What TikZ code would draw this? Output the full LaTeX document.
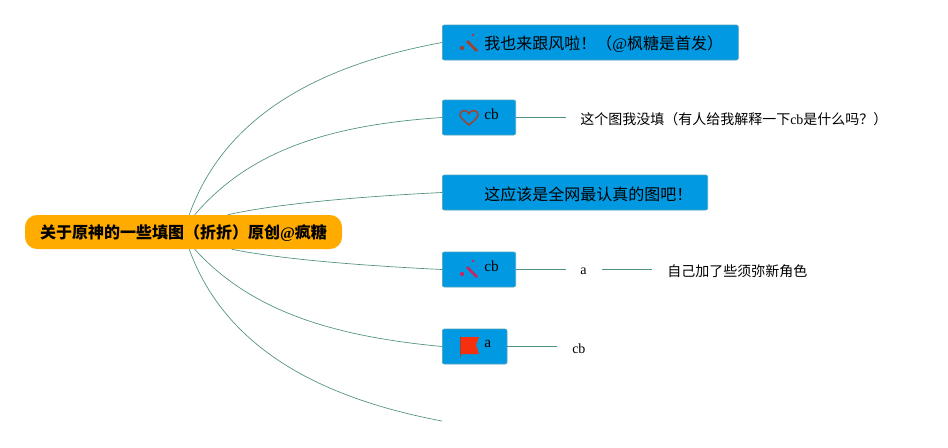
\documentclass[tikz,border=0pt]{standalone}
\usepackage{fontspec}
\setmainfont{Liberation Serif}
\newfontfamily\cjk{Noto Sans CJK SC}
\usetikzlibrary{positioning,calc}
\definecolor{topicblue}{HTML}{0099E2}
\definecolor{topicedge}{HTML}{4FA3BC}
\definecolor{rootorange}{HTML}{FFAB00}
\definecolor{linkgreen}{HTML}{4F8F82}
\definecolor{wandbrown}{HTML}{A5402F}
\definecolor{wandpink}{HTML}{C9245E}
\definecolor{flagred}{HTML}{F5300F}
\tikzset{
    rootbox/.style={fill=rootorange, rounded corners=9pt, minimum width=237.75pt, minimum height=25.5pt, inner sep=0pt},
    topicbox/.style={fill=topicblue, draw=topicedge, line width=0.5pt, rounded corners=1.5pt, minimum height=26.25pt, inner sep=0pt, anchor=west},
    topictext/.style={anchor=west, inner sep=0pt, font=\fontsize{12}{14}\selectfont\cjk},
    sidetext/.style={anchor=west, inner sep=0pt, font=\fontsize{10.5}{13}\selectfont\cjk},
    latintext/.style={anchor=west, inner sep=0pt, font=\fontsize{10.5}{13}\selectfont},
    boxlatin/.style={anchor=west, inner sep=0pt, font=\fontsize{11.5}{14}\selectfont},
    link/.style={linkgreen, line width=0.5pt}
}
\newcommand{\wandicon}[2]{%
    \draw[#2, line width=2pt] ($(#1)+(-3,-2)$) -- ($(#1)+(7,8)$);
    \fill[#2] ($(#1)+(-8,5)$) circle (1.6pt);
    \fill[#2] ($(#1)+(3,-8)$) circle (1pt);
    \fill[#2] ($(#1)+(7,-3)$) circle (0.5pt);
}
\begin{document}
\begin{tikzpicture}[x=0.75pt, y=-0.75pt]
    \useasboundingbox (0,0) rectangle (948,447);

    % Root topic
    \node[rootbox] (root) at (183.5,232) {};
    \node[inner sep=0pt, font=\fontsize{12}{14}\selectfont\cjk\bfseries] (roottext) at (183.5,233.5) {关于原神的一些填图（折折）原创{\rmfamily @}疯糖};

    % Topic boxes
    \node[topicbox, minimum width=222pt] (wish) at (442,42.5) {};
    \node[topicbox, minimum width=55pt] (heart) at (442,117.5) {};
    \node[topicbox, minimum width=199pt] (serious) at (442,192.5) {};
    \node[topicbox, minimum width=55pt] (extra) at (442,269.5) {};
    \node[topicbox, minimum width=48.5pt] (flag) at (442,346.5) {};
    \coordinate (blank) at (442,421);

    % Box texts
    \node[topictext] (wishtext) at (484,44) {我也来跟风啦！（{\rmfamily @}枫糖是首发）};
    \node[boxlatin] (hearttext) at (484,114) {cb};
    \node[topictext] (serioustext) at (484,194) {这应该是全网最认真的图吧！};
    \node[boxlatin] (extratext) at (484,266) {cb};
    \node[boxlatin] (flagtext) at (484,344) {a};

    % Side texts
    \node[sidetext] (heartnote) at (580,119.5) {这个图我没填（有人给我解释一下{\rmfamily cb}是什么吗？）};
    \node[latintext] (extraa) at (580,271.5) {a};
    \node[sidetext] (extranote) at (667,271.5) {自己加了些须弥新角色};
    \node[latintext] (flagcb) at (572,348.5) {cb};

    % Curves from the root
    \draw[link] ($(root.north west)+(164.5,0)$) .. controls (225,115) and (320,65) .. (wish.west);
    \draw[link] ($(root.north west)+(170,0)$) .. controls (250,150) and (330,125) .. (heart.west);
    \draw[link] ($(root.north west)+(203,0)$) .. controls (280,203) and (370,196) .. (serious.west);
    \draw[link] ($(root.south west)+(207,0)$) .. controls (285,260) and (370,266) .. (extra.west);
    \draw[link] ($(root.south west)+(170,0)$) .. controls (250,310) and (330,336) .. (flag.west);
    \draw[link] ($(root.south west)+(164.5,0)$) .. controls (225,348) and (320,398) .. (blank);

    % Side lines
    \draw[link] (heart.east) -- ++(50,0) coordinate (heartend);
    \draw[link] (extra.east) -- ++(50,0) coordinate (extraend);
    \draw[link] (602,269.5) coordinate (extrastart) -- (652,269.5) coordinate (extrastop);
    \draw[link] (flag.east) -- ++(50,0) coordinate (flagend);

    % Icons
    \wandicon{470,43}{wandbrown}
    \wandicon{470,269}{wandpink}
    \draw[wandbrown, line width=1.1pt] (469,125) .. controls (463,120) and (460,117) .. (460,114.5)
        .. controls (460,110) and (467,109) .. (469,113.5)
        .. controls (471,109) and (478,110) .. (478,114.5)
        .. controls (478,117) and (475,120) .. (469,125) -- cycle;
    \fill[flagred] (460,337) -- (479,337) -- (476,345) -- (479,354) -- (460,354) -- cycle;
    \draw[wandbrown, line width=0.8pt] (460.5,337) -- (460.5,357);
\end{tikzpicture}
\end{document}
